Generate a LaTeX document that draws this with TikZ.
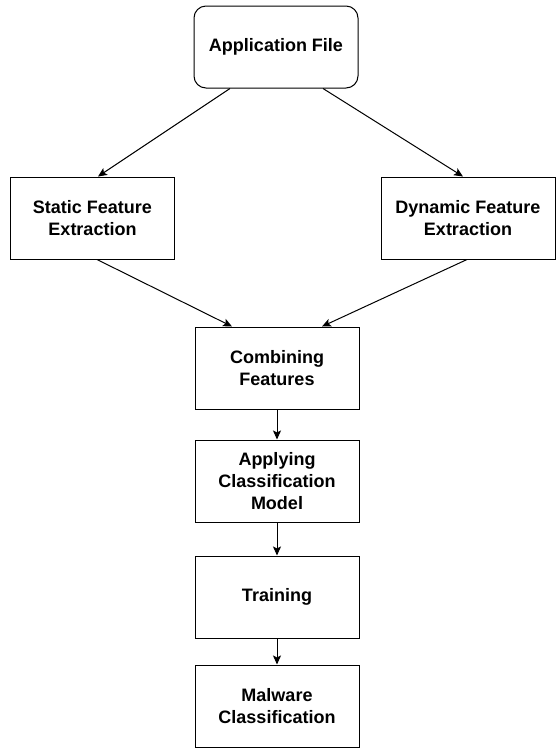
\documentclass[tikz,border=0pt]{standalone}
\usepackage{fontspec}
\setmainfont{Liberation Sans}
\usetikzlibrary{arrows.meta}
\tikzset {
    style A/.style={
        draw=black,
        line width=1pt,
        rectangle, % plain box
        minimum width=164pt,
        minimum height=82pt,
        inner sep=0pt,
        align=center,
        font=\fontsize{18}{22}\selectfont\bfseries,
    },
    style B/.style={
        style A,
        rounded corners=12pt, % start node
    },
    link/.style={
        draw=black,
        line width=1pt,
        -{Stealth[length=9pt,width=8pt,inset=2pt]},
    },
}
\begin{document}
\begin{tikzpicture}[x=1pt, y=-1pt]
        \useasboundingbox (0,0) rectangle (555,748);

        \node[style B] at (276,47) (app) {Application File};
        \node[style A] at (92.5,218) (static) {Static Feature\\Extraction};
        \node[style A, minimum width=174pt] at (468,218) (dynamic) {Dynamic Feature\\Extraction};
        \node[style A] at (277,368) (combine) {Combining\\Features};
        \node[style A] at (277,481) (apply) {Applying\\Classification\\Model};
        \node[style A] at (277,597) (train) {Training};
        \node[style A] at (277,706) (malware) {Malware\\Classification};

        \draw[link] ([xshift=-46pt]app.south) -- ([xshift=5.5pt]static.north);
        \draw[link] ([xshift=47pt]app.south) -- ([xshift=-5pt]dynamic.north);
        \draw[link] ([xshift=4.5pt]static.south) -- ([xshift=-45pt]combine.north);
        \draw[link] ([xshift=-1pt]dynamic.south) -- ([xshift=45pt]combine.north);
        \draw[link] (combine) -- (apply);
        \draw[link] (apply) -- (train);
        \draw[link] (train) -- (malware);
    \end{tikzpicture}
\end{document}
